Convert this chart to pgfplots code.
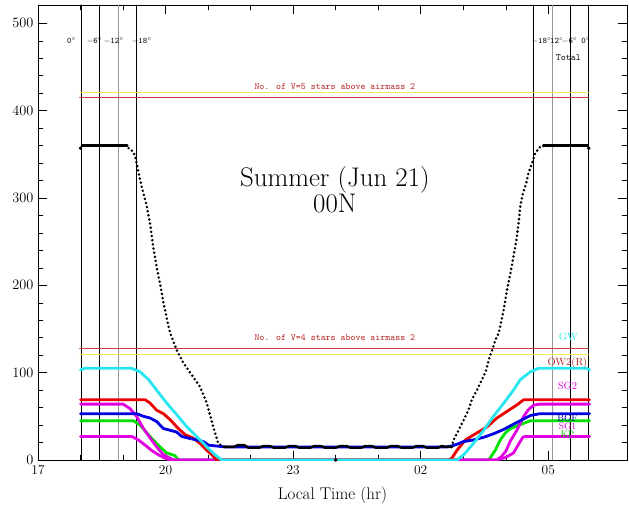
\documentclass[border=0pt]{standalone}
\usepackage{pgfplots}
\pgfplotsset{compat=1.18}
\definecolor{cyn}{RGB}{40,230,240}
\definecolor{rd}{RGB}{235,0,0}
\definecolor{bl}{RGB}{0,0,225}
\definecolor{gr}{RGB}{0,225,0}
\definecolor{mg}{RGB}{225,0,225}
\definecolor{hred}{RGB}{205,60,60}
\definecolor{hyel}{RGB}{240,235,90}
\definecolor{tred}{RGB}{180,30,30}
\definecolor{vgray}{RGB}{150,150,150}
\begin{document}
\begin{tikzpicture}
\begin{axis}[
  scale only axis, width=589bp, height=455bp,
  xmin=17, xmax=30.85, ymin=0, ymax=521,
  xtick={17,20,23,26,29}, xticklabels={17,20,23,02,05},
  minor x tick num=2,
  ytick={0,100,200,300,400,500}, minor y tick num=4,
  major tick length=9bp, minor tick length=5bp,
  tick style={black, line width=0.5bp},
  axis line style={black, line width=0.6bp},
  tick label style={font=\fontsize{13.5}{14}\selectfont},
  xticklabel style={yshift=-2bp},
  yticklabel style={xshift=-1bp},
  xlabel={Local Time (hr)},
  xlabel style={font=\fontsize{17}{18}\selectfont, yshift=-5bp},
  clip mode=individual,
  line join=round, line cap=round,
]
\coordinate (bl) at (rel axis cs:0,0);
\coordinate (tr) at (rel axis cs:1,1);
% twilight lines
\addplot[black, line width=0.6bp] coordinates {(18.01,0) (18.01,521)};
\addplot[black, line width=0.6bp] coordinates {(18.44,0) (18.44,521)};
\addplot[vgray, line width=0.9bp] coordinates {(18.90,0) (18.90,521)};
\addplot[black, line width=0.6bp] coordinates {(19.31,0) (19.31,521)};
\addplot[black, line width=0.6bp] coordinates {(28.65,0) (28.65,521)};
\addplot[vgray, line width=0.9bp] coordinates {(29.09,0) (29.09,521)};
\addplot[black, line width=0.6bp] coordinates {(29.52,0) (29.52,521)};
\addplot[black, line width=0.6bp] coordinates {(29.95,0) (29.95,521)};
% star-count lines
\addplot[hyel, line width=1.1bp] coordinates {(17.98,421) (29.94,421)};
\addplot[hred, line width=1.1bp] coordinates {(17.98,415) (29.94,415)};
\addplot[hred, line width=1.1bp] coordinates {(17.98,128) (29.94,128)};
\addplot[hyel, line width=1.1bp] coordinates {(17.98,121) (29.94,121)};
% KP (green)
\addplot[gr, line width=2.8bp] coordinates {(18.0,45)(19.24,45)(19.4,40)(19.56,31)(19.71,23)(19.87,15)(20.03,8)(20.22,5)(20.3,0)(27.6,0)(27.64,3)(27.75,11)(27.87,23)(27.99,31)(28.11,36)(28.26,39)(28.42,42)(28.58,45)(29.97,45)};
% SG1 (magenta, lower)
\addplot[mg, line width=2.8bp] coordinates {(18.0,27)(19.2,27)(19.36,23)(19.52,17)(19.67,11)(19.83,6)(19.99,2)(20.1,0)(27.79,0)(28.0,3)(28.18,8)(28.3,18)(28.4,26)(28.46,27)(29.97,27)};
% SG2 (magenta, upper)
\addplot[mg, line width=2.8bp] coordinates {(18.0,64)(19.0,64)(19.16,59)(19.32,50)(19.48,36)(19.64,25)(19.79,15)(19.95,6)(20.11,2)(20.2,0)(27.79,0)(27.9,4)(28.0,10)(28.11,22)(28.26,34)(28.42,50)(28.54,58)(28.66,63)(28.8,64)(29.97,64)};
% OW2(R) (red)
\addplot[rd, line width=2.8bp] coordinates {(18.0,69)(19.52,69)(19.64,65)(19.79,57)(19.95,53)(20.11,46)(20.3,36)(20.46,29)(20.65,25)(20.81,19)(20.97,11)(21.09,6)(21.2,0)(26.65,0)(26.73,2)(26.85,11)(27.05,23)(27.32,31)(27.56,38)(27.79,48)(28.07,57)(28.26,63)(28.42,69)(29.97,69)};
% BGF (blue)
\addplot[bl, line width=2.8bp] coordinates {(18.0,53)(19.32,53)(19.48,50)(19.64,48)(19.79,44)(19.95,36)(20.11,34)(20.26,32)(20.38,27)(20.54,25)(20.73,23)(20.89,21)(21.01,17)(21.2,16)(21.4,15)(26.6,15)(26.73,16)(26.85,18)(27.0,21)(27.24,23)(27.48,26)(27.71,30)(27.95,35)(28.18,41)(28.42,47)(28.58,51)(28.8,53)(29.97,53)};
% GW (cyan)
\addplot[cyn, line width=2.8bp] coordinates {(18.0,103)(18.1,105)(19.2,105)(19.4,101)(19.6,92)(19.79,80)(20.03,65)(20.26,52)(20.5,38)(20.73,27)(20.97,15)(21.16,6)(21.32,0)(26.85,0)(27.01,6)(27.24,19)(27.48,34)(27.71,50)(27.95,65)(28.18,80)(28.34,92)(28.58,101)(28.77,105)(29.9,105)(29.97,103)};
% Total (black): flat parts
\addplot[black, line width=2.4bp] coordinates {(18.04,360)(19.1,360)};
\addplot[black, line width=2.4bp] coordinates {(21.36,15)(21.6,15)(21.7,17)(21.85,17)(21.95,14)(22.2,14)(22.3,16)(22.45,16)(22.55,14)(22.8,14)(22.9,16)(23.05,16)(23.15,14)(23.4,14)(23.5,16)(23.65,16)(23.75,14)(24.0,14)(24.1,16)(24.25,16)(24.35,14)(24.6,14)(24.7,16)(24.85,16)(24.95,14)(25.2,14)(25.3,16)(25.45,16)(25.55,14)(25.8,14)(25.9,16)(26.05,16)(26.15,14)(26.4,14)(26.5,16)(26.6,15)(26.73,15)};
\addplot[black, line width=2.4bp] coordinates {(28.88,360)(29.93,360)};
% Total (black): dotted transitions
\addplot[black, line width=2.8bp, line cap=round, dash pattern=on 0bp off 4.2bp] coordinates {(19.05,360)(19.16,356)(19.24,353)(19.28,348)(19.32,340)(19.40,321)(19.44,313)(19.56,290)(19.64,269)(19.71,244)(19.79,221)(19.87,202)(19.95,180)(20.07,153)(20.11,145)(20.26,126)(20.42,111)(20.65,95)(20.81,84)(20.97,65)(21.12,38)(21.24,19)(21.36,15)};
\addplot[black, line width=2.8bp, line cap=round, dash pattern=on 0bp off 4.2bp] coordinates {(26.73,15)(26.77,23)(26.89,34)(27.01,46)(27.12,57)(27.20,69)(27.32,80)(27.44,92)(27.54,103)(27.60,115)(27.68,126)(27.75,137)(27.83,145)(27.87,153)(27.95,172)(28.03,195)(28.11,214)(28.18,233)(28.25,252)(28.30,271)(28.34,290)(28.40,305)(28.48,317)(28.53,328)(28.62,340)(28.69,351)(28.81,359)(28.93,360)};
\addplot[black, only marks, mark=*, mark size=1.6bp] coordinates {(18.0,357)(29.95,357)(24.0,0)};
% texts
\node[font=\fontsize{27}{19}\selectfont, align=center, inner sep=0pt] at (axis cs:23.98,310) {Summer (Jun 21)\\00N};
\node[font=\ttfamily\fontsize{9.5}{10}\selectfont, text=tred] at (axis cs:23.98,427) {No. of V=5 stars above airmass 2};
\node[font=\ttfamily\fontsize{9.5}{10}\selectfont, text=tred] at (axis cs:23.98,140) {No. of V=4 stars above airmass 2};
\node[font=\ttfamily\fontsize{8.5}{9}\selectfont] at (axis cs:17.79,480) {0$^\circ$};
\node[font=\ttfamily\fontsize{8.5}{9}\selectfont] at (axis cs:18.33,480) {$-$6$^\circ$};
\node[font=\ttfamily\fontsize{8.5}{9}\selectfont] at (axis cs:18.78,480) {$-$12$^\circ$};
\node[font=\ttfamily\fontsize{8.5}{9}\selectfont] at (axis cs:19.44,480) {$-$18$^\circ$};
\node[font=\ttfamily\fontsize{8.5}{9}\selectfont] at (axis cs:28.84,480) {$-$18$^\circ$};
\node[font=\ttfamily\fontsize{8.5}{9}\selectfont] at (axis cs:29.2,480) {12$^\circ$};
\node[font=\ttfamily\fontsize{8.5}{9}\selectfont] at (axis cs:29.5,480) {$-$6$^\circ$};
\node[font=\ttfamily\fontsize{8.5}{9}\selectfont] at (axis cs:29.88,480) {0$^\circ$};
\node[font=\ttfamily\fontsize{9.5}{10}\selectfont] at (axis cs:29.47,461) {Total};
\node[font=\fontsize{10.5}{11}\selectfont, text=cyn] at (axis cs:29.47,141) {GW};
\node[font=\fontsize{10.5}{11}\selectfont, text=tred] at (axis cs:29.45,111) {OW2(R)};
\node[font=\fontsize{10.5}{11}\selectfont, text=mg] at (axis cs:29.45,85) {SG2};
\node[font=\fontsize{9.5}{10}\selectfont, text=bl!70!black, inner sep=0pt] at (axis cs:29.45,48) {BGF};
\node[font=\fontsize{9.5}{10}\selectfont, text=mg, inner sep=0pt] at (axis cs:29.45,38.5) {SG1};
\node[font=\fontsize{9.5}{10}\selectfont, text=gr!85!black, inner sep=0pt] at (axis cs:29.45,29) {KP};
\end{axis}
\pgfresetboundingbox
\path ([shift={(-38bp,-48bp)}]bl) rectangle ([shift={(2bp,5bp)}]tr);
\end{tikzpicture}
\end{document}
